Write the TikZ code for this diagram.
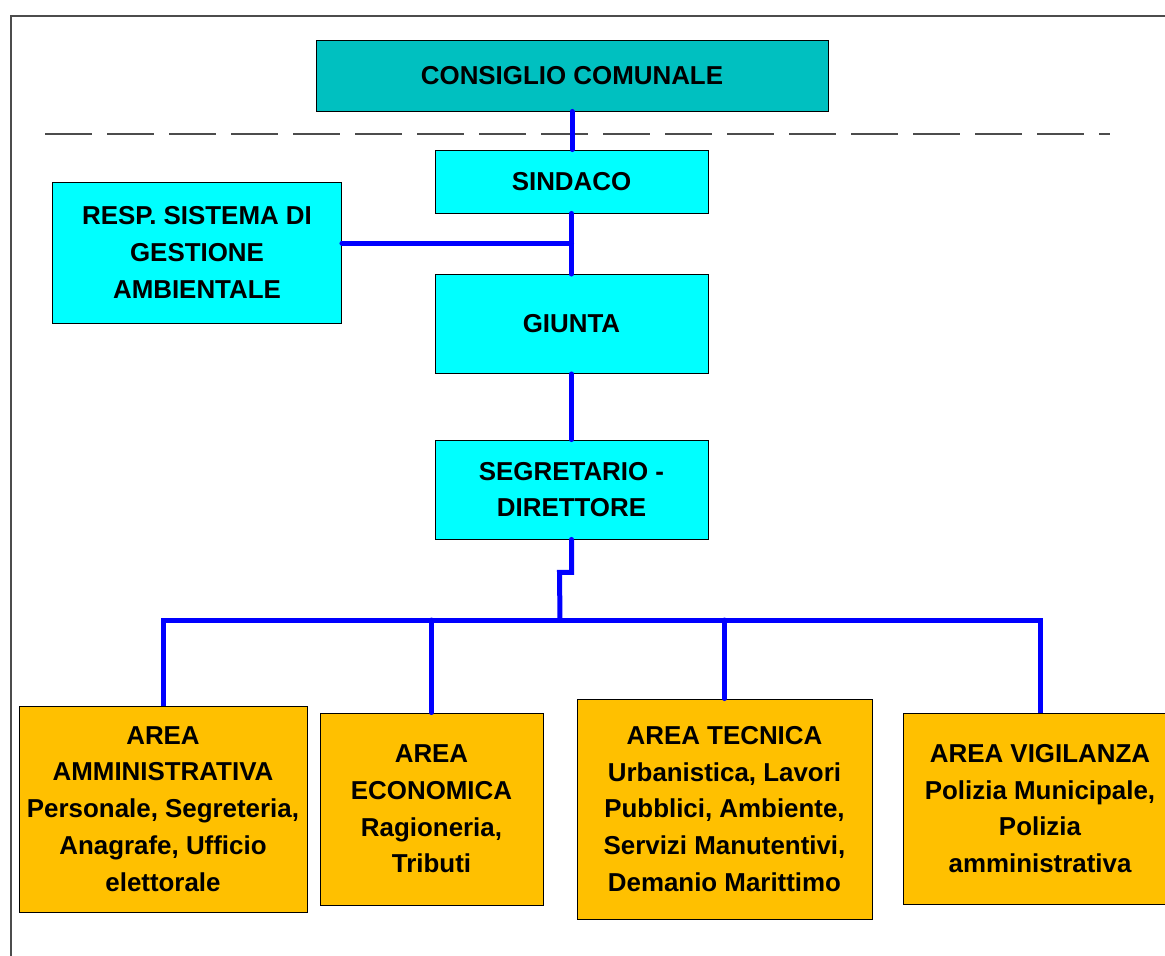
\documentclass[tikz,border=0pt]{standalone}
\usepackage{fontspec}
\setmainfont{Liberation Sans}
\definecolor{consigliofill}{HTML}{00C0C0}
\definecolor{ufficiofill}{HTML}{00FFFF}
\definecolor{areafill}{HTML}{FFC000}
\definecolor{linkblue}{HTML}{0000FF}
\begin{document}
\begin{tikzpicture}[x=1pt,y=-1pt,
  box/.style={draw=black,line width=0.9pt,align=center,inner sep=0pt,
    font=\bfseries\fontsize{25.9}{36.8}\selectfont},
  topbox/.style={box,fill=consigliofill},
  cyanbox/.style={box,fill=ufficiofill},
  areabox/.style={box,fill=areafill},
  conn/.style={draw=linkblue,line width=5pt,line cap=round}]
\useasboundingbox (0,0) rectangle (1165,956);
% cornice e linea tratteggiata
\draw[gray!60!black,line width=1.2pt] (11,956) -- (11,16) -- (1165,16);
\draw[gray!60!black,line width=1.2pt,dash pattern=on 47pt off 15pt] (45,134) -- (1110,134);
% organi
\node[topbox,minimum width=512,minimum height=71] (consiglio) at (572,75.5) {CONSIGLIO COMUNALE};
\node[cyanbox,minimum width=273,minimum height=63] (sindaco) at (571.5,181.5) {SINDACO};
\node[cyanbox,minimum width=289,minimum height=141] (resp) at (197,252.5) {RESP. SISTEMA DI\\GESTIONE\\AMBIENTALE};
\node[cyanbox,minimum width=273,minimum height=99] (giunta) at (571.5,324) {GIUNTA};
\node[cyanbox,minimum width=273,minimum height=99] (segretario) at (571.5,489.5) {SEGRETARIO -\\DIRETTORE};
% aree
\node[areabox,minimum width=288,minimum height=206] (amm) at (163,809) {AREA\\AMMINISTRATIVA\\Personale, Segreteria,\\Anagrafe, Ufficio\\elettorale};
\node[areabox,minimum width=223,minimum height=192] (eco) at (431.5,809) {AREA\\ECONOMICA\\Ragioneria,\\Tributi};
\node[areabox,minimum width=295,minimum height=220] (tec) at (724.5,809) {AREA TECNICA\\Urbanistica, Lavori\\Pubblici, Ambiente,\\Servizi Manutentivi,\\Demanio Marittimo};
\node[areabox,minimum width=274,minimum height=191] (vig) at (1040,808.5) {AREA VIGILANZA\\Polizia Municipale,\\Polizia\\amministrativa};
% collegamenti
\coordinate (bus) at (560,620);
\draw[conn] (consiglio.south) -- (consiglio.south |- sindaco.north);
\draw[conn] (sindaco.south) -- (giunta.north);
\draw[conn] ([yshift=9.5pt]resp.east) -- ([yshift=9.5pt]resp.east -| sindaco.south);
\draw[conn] (giunta.south) -- (segretario.north);
\draw[conn] (segretario.south) -- ++(0,33) -- ++(-12,0) -- (bus);
\draw[conn,line cap=butt] (amm.north) -- (amm.north |- bus) -- (vig.north |- bus) -- (vig.north);
\foreach \n in {eco,tec}
  \draw[conn] (\n.north) -- (\n.north |- bus);
\end{tikzpicture}
\end{document}
